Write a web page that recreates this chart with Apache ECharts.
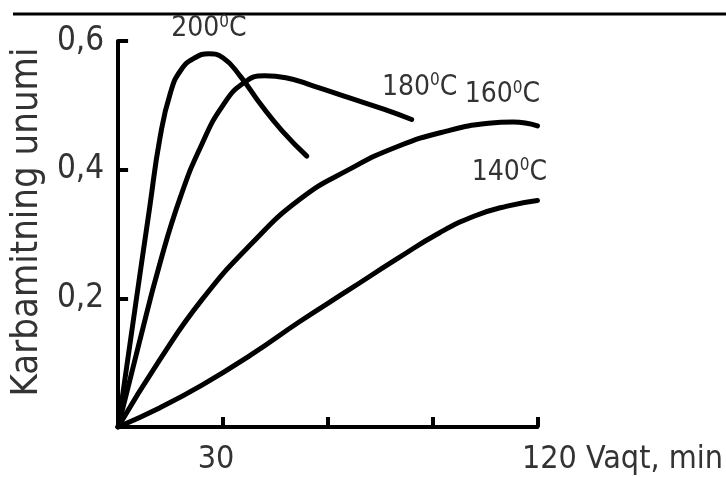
<!DOCTYPE html>
<html>
<head>
<meta charset="utf-8">
<script src="https://cdn.jsdelivr.net/npm/echarts@6/dist/echarts.min.js"></script>
<style>
  html, body { margin: 0; padding: 0; background: #fff; }
  #chart { width: 726px; height: 477px; }
</style>
</head>
<body>
<div id="chart"></div>
<script>
// Carbamide yield vs. reaction time at four temperatures
var temps = ['200', '180', '160', '140'];

var t200 = [0, 5, 9, 12, 15, 18, 22, 26, 30, 35, 41, 47, 54];
var y200 = [0, 0.19, 0.34, 0.45, 0.52, 0.555, 0.574, 0.580, 0.574, 0.545, 0.500, 0.460, 0.421];

var t180 = [0, 6, 12, 18, 24, 30, 36, 42, 48, 56, 66, 76, 84];
var y180 = [0, 0.13, 0.255, 0.36, 0.44, 0.50, 0.535, 0.546, 0.543, 0.530, 0.512, 0.494, 0.478];

var t160 = [0, 12, 24, 38, 52, 66, 80, 94, 106, 113, 120];
var y160 = [0, 0.105, 0.198, 0.284, 0.354, 0.400, 0.436, 0.460, 0.472, 0.474, 0.468];

var t140 = [0, 12, 24, 38, 52, 66, 80, 92, 102, 111, 120];
var y140 = [0, 0.030, 0.065, 0.112, 0.164, 0.213, 0.262, 0.302, 0.328, 0.343, 0.352];

var xTicks = [30, 120];
var xUnit = 'Vaqt, min';
var yName = 'Karbamitning unumi';

var FONT = "'Liberation Sans Narrow', 'DejaVu Sans Condensed', sans-serif";
var INK = '#000';
var TXT = '#333';

function pairs(t, y) {
  return t.map(function (v, i) { return [v, y[i]]; });
}

var tempRich = {
  n: { fontFamily: FONT, fontSize: 28, color: TXT, lineHeight: 30 },
  s: { fontFamily: FONT, fontSize: 17, color: TXT, verticalAlign: 'top', lineHeight: 16 }
};

function tempText(t) {
  return '{n|' + t + '}{s|0}{n|C}';
}

function curve(idx, t, y, markSpec, offset) {
  return {
    type: 'line',
    name: temps[idx],
    data: pairs(t, y),
    smooth: 0.5,
    showSymbol: false,
    symbol: 'none',
    lineStyle: { color: INK, width: 5, cap: 'round', join: 'round' },
    z: 3,
    markPoint: {
      symbol: 'circle',
      symbolSize: 0,
      silent: true,
      label: {
        show: true,
        position: 'inside',
        offset: offset,
        formatter: function () { return tempText(temps[idx]); },
        rich: tempRich
      },
      data: [markSpec]
    }
  };
}

var chart = echarts.init(document.getElementById('chart'), null, { renderer: 'canvas' });

var option = {
  animation: false,
  backgroundColor: '#fff',
  grid: { left: 114, right: 185, top: 41, bottom: 50, containLabel: false },
  xAxis: {
    type: 'value',
    min: 0,
    max: 120,
    interval: 30,
    axisLine: { show: true, lineStyle: { color: INK, width: 4 } },
    axisTick: { show: true, inside: true, length: 10, lineStyle: { color: INK, width: 4 } },
    splitLine: { show: false },
    axisLabel: {
      margin: 17,
      fontFamily: FONT,
      fontSize: 32,
      color: TXT,
      formatter: function (v) {
        if (xTicks.indexOf(v) < 0) return '';
        if (v === 120) return '{e|' + v + ' ' + xUnit + '}';
        return '{c|' + v + '}';
      },
      rich: {
        c: { fontFamily: FONT, fontSize: 32, color: TXT, padding: [0, 14, 0, 0] },
        e: { fontFamily: FONT, fontSize: 32, color: TXT, padding: [0, 0, 0, 170] }
      }
    }
  },
  yAxis: {
    type: 'value',
    min: 0,
    max: 0.6,
    interval: 0.2,
    name: yName,
    nameLocation: 'middle',
    nameGap: 62,
    nameRotate: 90,
    nameTextStyle: { fontFamily: FONT, fontSize: 38, color: TXT, padding: [0, 0, 0, 24] },
    axisLine: { show: true, lineStyle: { color: INK, width: 4 } },
    axisTick: { show: true, inside: true, length: 10, lineStyle: { color: INK, width: 4 } },
    splitLine: { show: false },
    axisLabel: {
      showMinLabel: false,
      margin: 14,
      fontFamily: FONT,
      fontSize: 33,
      color: TXT,
      formatter: function (v) { return v.toFixed(1).replace('.', ','); }
    }
  },
  graphic: [{
    type: 'line',
    shape: { x1: 13, y1: 14, x2: 726, y2: 14 },
    style: { stroke: INK, lineWidth: 3 },
    silent: true
  }],
  series: [
    curve(0, t200, y200, { type: 'max' }, [0, -25]),
    curve(1, t180, y180, { coord: [t180[t180.length - 1], y180[y180.length - 1]] }, [8, -32]),
    curve(2, t160, y160, { coord: [t160[t160.length - 1], y160[y160.length - 1]] }, [-35, -31]),
    curve(3, t140, y140, { coord: [t140[t140.length - 1], y140[y140.length - 1]] }, [-28, -28])
  ]
};

chart.setOption(option);
</script>
</body>
</html>
